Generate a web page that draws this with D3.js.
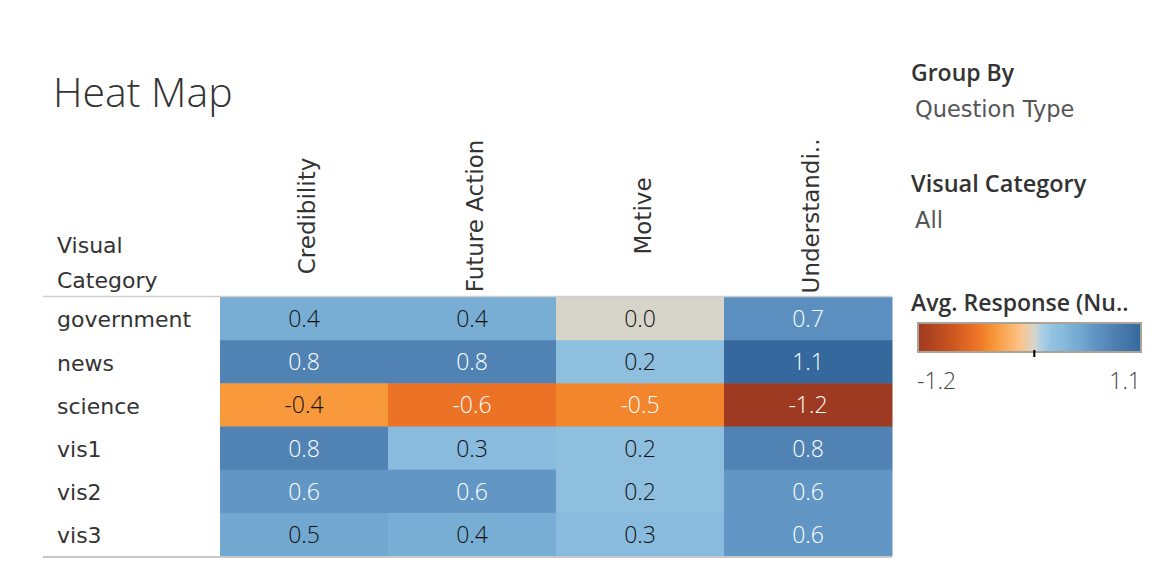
<!DOCTYPE html>
<html>
<head>
<meta charset="utf-8">
<script src="https://cdn.jsdelivr.net/npm/d3@7"></script>
<style>
  html, body { margin: 0; padding: 0; background: #fff; }
  svg { display: block; }
</style>
</head>
<body>
<svg id="chart" width="1166" height="581"></svg>
<script>
// ---- data ----
const rows = ["government", "news", "science", "vis1", "vis2", "vis3"];
const columns = ["Credibility", "Future Action", "Motive", "Understandi.."];
const credibility  = [0.4, 0.8, -0.4, 0.8, 0.6, 0.5];
const futureAction = [0.4, 0.8, -0.6, 0.3, 0.6, 0.4];
const motive       = [0.0, 0.2, -0.5, 0.2, 0.2, 0.3];
const understanding = [0.7, 1.1, -1.2, 0.8, 0.6, 0.6];
const legendTicks = [-1.2, 1.1];

const seriesByColumn = [credibility, futureAction, motive, understanding];
const cells = [];
columns.forEach((c, ci) => rows.forEach((r, ri) => cells.push({ row: r, col: c, value: seriesByColumn[ci][ri] })));

const fmt = v => v.toFixed(1);

// ---- colour (orange-blue diverging) ----
const color = d3.scaleLinear()
  .domain([-1.2, -0.9, -0.6, -0.5, -0.4, -0.15, 0, 0.08, 0.2, 0.3, 0.4, 0.5, 0.6, 0.7, 0.8, 1.1])
  .range(["#9e3a21", "#c5501f", "#ec7226", "#f3852c", "#f8993c", "#fdc387", "#d7d5ca", "#a9cfe6",
          "#8ebfdf", "#88bbdd", "#79aed4", "#72a7d0", "#6296c4", "#5b8fc0", "#5083b4", "#35689c"])
  .interpolate(d3.interpolateRgb)
  .clamp(true);

const svg = d3.select("#chart");
const FONT = "'DejaVu Sans', sans-serif";
const HF = "'Open Sans', sans-serif";
const TXT = "#333333";

// ---- scales ----
const x = d3.scaleBand().domain(columns).range([220, 892]);
const y = d3.scaleBand().domain(rows).range([297, 556]);

// title
svg.append("text").attr("x", 53).attr("y", 107)
  .attr("font-family", HF).attr("font-weight", 300)
  .attr("font-size", 41).attr("fill", TXT).text("Heat Map");

// row header
svg.append("text").attr("x", 57).attr("y", 253).attr("font-family", FONT)
  .attr("font-size", 22).attr("fill", TXT).text("Visual");
svg.append("text").attr("x", 57).attr("y", 288).attr("font-family", FONT)
  .attr("font-size", 22).attr("fill", TXT).text("Category");

// cells
const g = svg.append("g");
g.selectAll("rect").data(cells).join("rect")
  .attr("x", d => x(d.col)).attr("y", d => y(d.row))
  .attr("width", x.bandwidth() + 0.5).attr("height", y.bandwidth() + 0.5)
  .attr("fill", d => color(d.value));

g.selectAll("text.val").data(cells).join("text").attr("class", "val")
  .attr("x", d => x(d.col) + x.bandwidth() / 2)
  .attr("y", d => y(d.row) + y.bandwidth() / 2)
  .attr("dy", "0.37em").attr("text-anchor", "middle")
  .attr("font-family", HF).attr("font-weight", 300).attr("font-size", 23)
  .attr("fill", d => (d.value >= 0.55 || d.value <= -0.45) ? "#ffffff" : "#111111")
  .text(d => fmt(d.value));

// axes
const yAxis = svg.append("g").attr("transform", "translate(57,0)")
  .call(d3.axisLeft(y).tickSize(0).tickPadding(0));
yAxis.select(".domain").remove();
yAxis.selectAll("text").attr("text-anchor", "start").attr("x", 0)
  .attr("font-family", FONT).attr("font-size", 22).attr("fill", TXT).attr("dy", "0.4em");

const xAxis = svg.append("g").attr("transform", "translate(0,216)")
  .call(d3.axisTop(x).tickSize(0).tickPadding(0));
xAxis.select(".domain").remove();
xAxis.selectAll(".tick text")
  .attr("transform", "rotate(-90)")
  .attr("x", 0).attr("y", 3).attr("dy", "0.36em")
  .attr("text-anchor", "middle")
  .attr("font-family", FONT).attr("font-size", 23).attr("fill", TXT);

// separator lines
svg.append("line").attr("x1", 43).attr("x2", 892).attr("y1", 296.5).attr("y2", 296.5)
  .attr("stroke", "#cfcfcf").attr("stroke-width", 1.5);
svg.append("line").attr("x1", 43).attr("x2", 892).attr("y1", 557).attr("y2", 557)
  .attr("stroke", "#c8c8c8").attr("stroke-width", 2);

// ---- right panel ----
svg.append("text").attr("x", 911).attr("y", 81).attr("font-family", HF).attr("font-weight", 600)
  .attr("font-size", 23).attr("fill", TXT).text("Group By");
svg.append("text").attr("x", 915).attr("y", 117).attr("font-family", FONT)
  .attr("font-size", 22.5).attr("fill", "#555").text("Question Type");
svg.append("text").attr("x", 911).attr("y", 192).attr("font-family", HF).attr("font-weight", 600)
  .attr("font-size", 23.5).attr("fill", TXT).text("Visual Category");
svg.append("text").attr("x", 915).attr("y", 228).attr("font-family", FONT)
  .attr("font-size", 22.5).attr("fill", "#555").text("All");
svg.append("text").attr("x", 911).attr("y", 311).attr("font-family", HF).attr("font-weight", 600)
  .attr("font-size", 23).attr("fill", TXT).text("Avg. Response (Nu..");

// legend gradient
const lx = d3.scaleLinear().domain(d3.extent(legendTicks)).range([919, 1140]);
const defs = svg.append("defs");
const grad = defs.append("linearGradient").attr("id", "lg").attr("x1", "0%").attr("x2", "100%");
const stops = d3.range(0, 41).map(i => legendTicks[0] + (legendTicks[1] - legendTicks[0]) * i / 40);
grad.selectAll("stop").data(stops).join("stop")
  .attr("offset", d => ((lx(d) - 919) / 221 * 100) + "%")
  .attr("stop-color", d => color(d));
svg.append("rect").attr("x", 918).attr("y", 323).attr("width", 223).attr("height", 29)
  .attr("fill", "url(#lg)").attr("stroke", "#a9a498").attr("stroke-width", 2);
svg.append("line").attr("x1", lx(0)).attr("x2", lx(0)).attr("y1", 350).attr("y2", 357)
  .attr("stroke", "#000").attr("stroke-width", 2);
svg.selectAll("text.lt").data(legendTicks).join("text").attr("class", "lt")
  .attr("x", (d, i) => i === 0 ? 917 : 1141).attr("y", 389)
  .attr("text-anchor", (d, i) => i === 0 ? "start" : "end")
  .attr("font-family", HF).attr("font-weight", 300).attr("font-size", 23).attr("fill", "#444")
  .text(d => fmt(d));
</script>
</body>
</html>
